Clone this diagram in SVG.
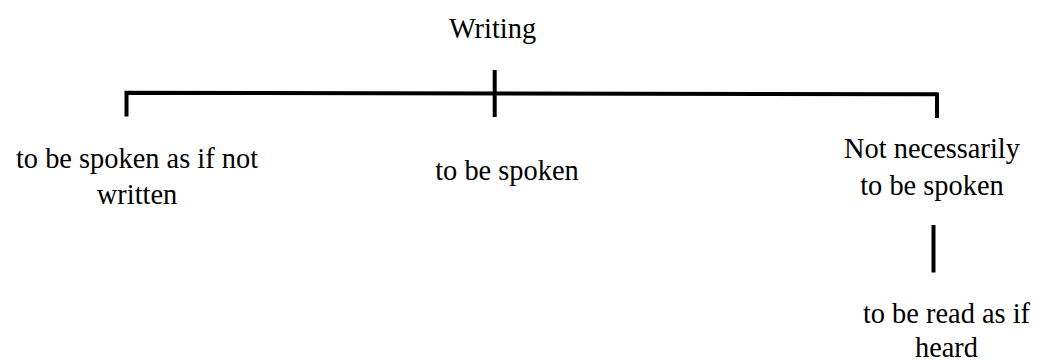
<svg xmlns="http://www.w3.org/2000/svg" width="1037" height="363" viewBox="0 0 1037 363">
<style>
text{font-family:"Liberation Serif","Times New Roman",serif;font-size:28.4px;fill:#000;text-anchor:middle}
.ln{stroke:#000;stroke-width:4;fill:none;stroke-linecap:butt}
</style>
<rect width="1037" height="363" fill="#fff"/>
<g id="connectors">
<path class="ln" d="M126.5 116.5V92.7L937 94.3"/>
<path class="ln" d="M937 92.5V118"/>
<path class="ln" d="M494.7 70V117"/>
<path class="ln" stroke-width="3.6" d="M933.5 225V272.5"/>
</g>
<g id="writing"><text x="492.5" y="38">Writing</text></g>
<g id="spoken-as-if-not-written"><text x="137" y="168">to be spoken as if not</text><text x="137" y="204">written</text></g>
<g id="to-be-spoken"><text x="507" y="180">to be spoken</text></g>
<g id="not-necessarily"><text x="932" y="158">Not necessarily</text><text x="932" y="195">to be spoken</text></g>
<g id="read-as-if-heard"><text x="946.5" y="323">to be read as if</text><text x="946.5" y="357">heard</text></g>
</svg>
